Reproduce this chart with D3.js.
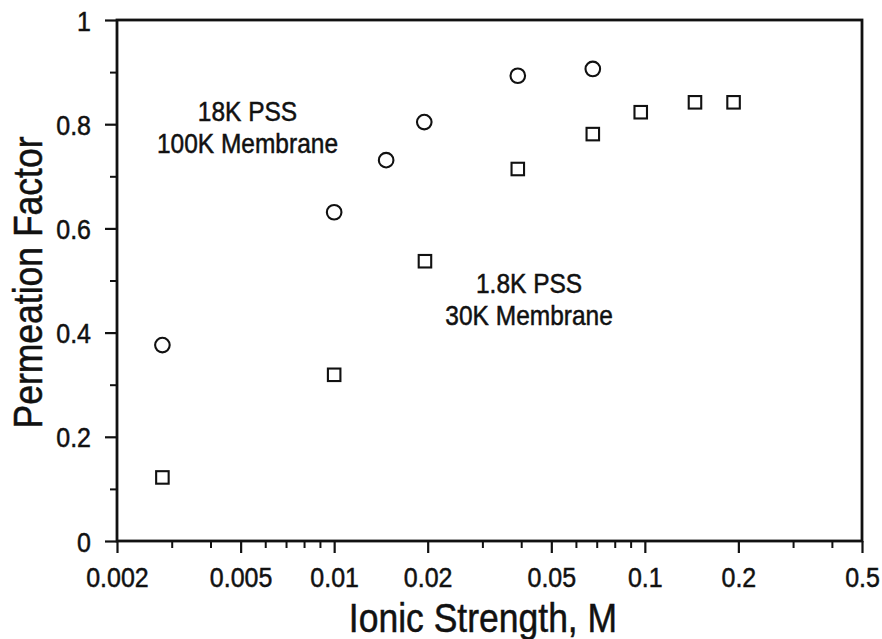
<!DOCTYPE html>
<html>
<head>
<meta charset="utf-8">
<script src="https://cdn.jsdelivr.net/npm/d3@7"></script>
<style>
  html, body { margin: 0; padding: 0; background: #fff; }
  svg { display: block; }
  text { font-family: "Liberation Sans", Arial, Helvetica, sans-serif; fill: #111; stroke: #111; stroke-width: 0.45px; }
</style>
</head>
<body>
<svg id="chart" width="882" height="639"></svg>
<script>
// ---- data ----
const circleX = [0.0028, 0.010, 0.0147, 0.0195, 0.039, 0.068];   // 18K PSS / 100K membrane
const circleY = [0.376, 0.631, 0.731, 0.804, 0.893, 0.906];
const squareX = [0.0028, 0.010, 0.0196, 0.039, 0.068, 0.097, 0.145, 0.193]; // 1.8K PSS / 30K membrane
const squareY = [0.122, 0.319, 0.537, 0.714, 0.781, 0.823, 0.842, 0.842];
const xTickValues = [0.002, 0.005, 0.01, 0.02, 0.05, 0.1, 0.2, 0.5];
const xTickLabels = ["0.002", "0.005", "0.01", "0.02", "0.05", "0.1", "0.2", "0.5"];
const xMinorValues = [0.003, 0.004, 0.006, 0.007, 0.008, 0.009, 0.03, 0.04, 0.06, 0.07, 0.08, 0.09, 0.3, 0.4];
const yTickValues = [0, 0.2, 0.4, 0.6, 0.8, 1];
const yTickLabels = ["0", "0.2", "0.4", "0.6", "0.8", "1"];
const yMinorValues = [0.1, 0.3, 0.5, 0.7, 0.9];
const xTitle = "Ionic Strength, M";
const yTitle = "Permeation Factor";
const annotations = [
  { lines: ["18K PSS", "100K Membrane"], x: 0.00526, y: 0.807 },
  { lines: ["1.8K PSS", "30K Membrane"], x: 0.0424, y: 0.476 }
];

// ---- layout ----
const svg = d3.select("#chart");
const L = 117, R = 862, T = 20, B = 541;
const x = d3.scaleLog().domain([0.002, 0.5]).range([L, R]);
const y = d3.scaleLinear().domain([0, 1]).range([B, T]);
const stretch = 1.12;

// frame
svg.append("rect")
  .attr("x", L).attr("y", T).attr("width", R - L).attr("height", B - T)
  .attr("fill", "none").attr("stroke", "#111").attr("stroke-width", 2.8);

// x axis major
const gx = svg.append("g").attr("transform", `translate(0,${B})`)
  .call(d3.axisBottom(x).tickValues(xTickValues)
    .tickFormat((d, i) => xTickLabels[i]).tickSize(12).tickSizeOuter(0));
gx.select(".domain").remove();
gx.selectAll(".tick line").attr("stroke", "#111").attr("stroke-width", 2.2);
gx.selectAll(".tick text")
  .attr("y", null).attr("dy", null)
  .attr("transform", `translate(0,46) scale(1,${stretch})`)
  .style("font-size", "25px").attr("fill", "#111");

// x axis minor
const gxm = svg.append("g").attr("transform", `translate(0,${B})`)
  .call(d3.axisBottom(x).tickValues(xMinorValues).tickFormat("").tickSize(7).tickSizeOuter(0));
gxm.select(".domain").remove();
gxm.selectAll(".tick line").attr("stroke", "#111").attr("stroke-width", 2);

// y axis major
const gy = svg.append("g").attr("transform", `translate(${L},0)`)
  .call(d3.axisLeft(y).tickValues(yTickValues)
    .tickFormat((d, i) => yTickLabels[i]).tickSize(12).tickSizeOuter(0));
gy.select(".domain").remove();
gy.selectAll(".tick line").attr("stroke", "#111").attr("stroke-width", 2.2);
gy.selectAll(".tick text")
  .attr("x", null).attr("dy", null)
  .attr("transform", `translate(-26,10) scale(1,${stretch})`)
  .attr("text-anchor", "end")
  .style("font-size", "25px").attr("fill", "#111");

// y axis minor
const gym = svg.append("g").attr("transform", `translate(${L},0)`)
  .call(d3.axisLeft(y).tickValues(yMinorValues).tickFormat("").tickSize(7).tickSizeOuter(0));
gym.select(".domain").remove();
gym.selectAll(".tick line").attr("stroke", "#111").attr("stroke-width", 2);

// axis titles
svg.append("text")
  .attr("transform", `translate(${(L + R) / 2 - 6.5},632) scale(1,${stretch})`)
  .attr("text-anchor", "middle").style("font-size", "35.5px").text(xTitle);
svg.append("text")
  .attr("transform", `translate(42,${(T + B) / 2 + 2}) rotate(-90) scale(1,${stretch})`)
  .attr("text-anchor", "middle").style("font-size", "35.5px").text(yTitle);

// circles
const circleData = circleX.map((v, i) => ({ x: v, y: circleY[i] }));
svg.append("g").selectAll("circle").data(circleData).join("circle")
  .attr("cx", d => x(d.x)).attr("cy", d => y(d.y)).attr("r", 7.3)
  .attr("fill", "none").attr("stroke", "#111").attr("stroke-width", 2.1);

// squares
const squareData = squareX.map((v, i) => ({ x: v, y: squareY[i] }));
const s = 12.5;
svg.append("g").selectAll("rect").data(squareData).join("rect")
  .attr("x", d => x(d.x) - s / 2).attr("y", d => y(d.y) - s / 2)
  .attr("width", s).attr("height", s)
  .attr("fill", "none").attr("stroke", "#111").attr("stroke-width", 2.1);

// annotations
annotations.forEach(a => {
  const t = svg.append("text")
    .attr("transform", `translate(${x(a.x)},${y(a.y)}) scale(1,${stretch})`)
    .attr("text-anchor", "middle").style("font-size", "24.5px");
  a.lines.forEach((ln, i) => {
    t.append("tspan").attr("x", 0).attr("y", i * 29).text(ln);
  });
});
</script>
</body>
</html>
